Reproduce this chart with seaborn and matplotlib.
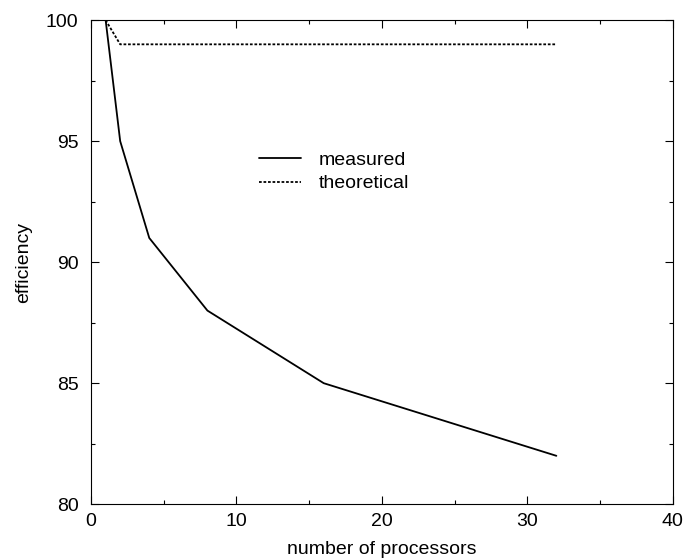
import matplotlib
matplotlib.use("Agg")
import matplotlib.pyplot as plt
import pandas as pd
import seaborn as sns
from matplotlib.ticker import MultipleLocator

procs = [1, 2, 4, 8, 16, 32]
measured = [100, 95, 91, 88, 85, 82]
theoretical = [100, 99, 99, 99, 99, 99]

df = pd.DataFrame({
    "procs": procs * 2,
    "eff": measured + theoretical,
    "kind": ["measured"] * len(procs) + ["theoretical"] * len(procs),
})

sns.set_theme(style="ticks")
plt.rcParams["font.family"] = ["Liberation Sans", "DejaVu Sans"]
plt.rcParams.update({"text.color": "black", "axes.labelcolor": "black",
                     "xtick.color": "black", "ytick.color": "black"})

fig = plt.figure(figsize=(6.85, 5.59), dpi=100)
ax = fig.add_axes([0.133, 0.098, 0.849, 0.866])

sns.lineplot(data=df, x="procs", y="eff", hue="kind", style="kind",
             palette=["black", "black"],
             dashes={"measured": "", "theoretical": (1.5, 1)},
             linewidth=1.3, ax=ax)

ax.set_xlim(0, 40)
ax.set_ylim(80, 100)
ax.xaxis.set_major_locator(MultipleLocator(10))
ax.xaxis.set_minor_locator(MultipleLocator(5))
ax.yaxis.set_major_locator(MultipleLocator(5))
ax.yaxis.set_minor_locator(MultipleLocator(2.5))
ax.tick_params(which="both", direction="in", top=True, right=True,
               labelsize=14, color="black", width=0.8)
ax.tick_params(which="major", length=6)
ax.tick_params(which="minor", length=3)
ax.tick_params(axis="x", which="major", pad=6)
ax.tick_params(axis="y", which="major", pad=9)
for s in ax.spines.values():
    s.set_linewidth(0.8)
    s.set_color("black")

ax.set_xlabel("number of processors", fontsize=14, labelpad=8)
ax.set_ylabel("efficiency", fontsize=14, labelpad=10)

leg = ax.legend(loc="upper left", bbox_to_anchor=(0.258, 0.765), frameon=False,
                fontsize=14, handlelength=2.2, handletextpad=0.9,
                labelspacing=0.3, title=None)

fig.savefig("out.png", dpi=100)
